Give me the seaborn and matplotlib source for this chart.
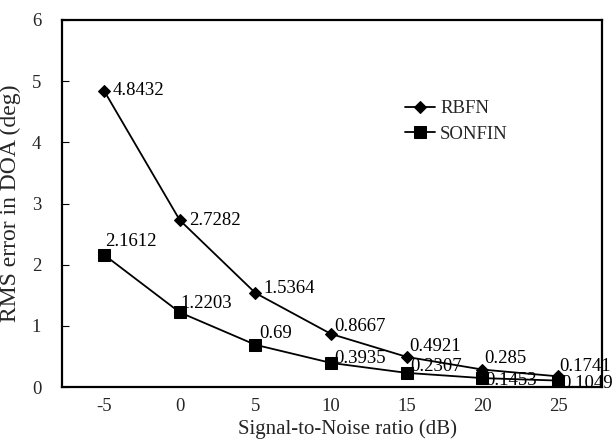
import matplotlib
matplotlib.use("Agg")
import matplotlib.pyplot as plt
import seaborn as sns
import pandas as pd

snr = [-5, 0, 5, 10, 15, 20, 25]
rbfn = [4.8432, 2.7282, 1.5364, 0.8667, 0.4921, 0.285, 0.1741]
sonfin = [2.1612, 1.2203, 0.69, 0.3935, 0.2307, 0.1453, 0.1049]
rbfn_labels = ["4.8432", "2.7282", "1.5364", "0.8667", "0.4921", "0.285", "0.1741"]
sonfin_labels = ["2.1612", "1.2203", "0.69", "0.3935", "0.2307", "0.1453", "0.1049"]
yticks = [0, 1, 2, 3, 4, 5, 6]

sns.set_theme(style="white")
plt.rcParams['font.family'] = ['Liberation Serif', 'DejaVu Serif']

df = pd.DataFrame({
    "SNR": snr + snr,
    "RMS": rbfn + sonfin,
    "Method": ["RBFN"] * len(snr) + ["SONFIN"] * len(snr),
})

fig = plt.figure(figsize=(6.15, 4.45), dpi=100)
ax = fig.add_axes([62/615, 58/445, 540/615, 367/445])

sns.lineplot(data=df, x="SNR", y="RMS", hue="Method", style="Method",
             palette={"RBFN": "black", "SONFIN": "black"},
             markers={"RBFN": "D", "SONFIN": "s"}, dashes=False,
             linewidth=1.3, markeredgecolor="black", ax=ax)

for line in ax.get_lines():
    if line.get_marker() == "D":
        line.set_markersize(6)
    elif line.get_marker() == "s":
        line.set_markersize(8.5)

fs = 13.5
rb_off = [(9, 0), (9, 0), (8, 5), (3, 7), (2, 10), (2, 11), (1, 10)]
so_off = [(1, 13), (1, 9), (4, 11), (3, 4), (3, 6), (3, -2), (3, -3)]
for x, y, t, o in zip(snr, rbfn, rbfn_labels, rb_off):
    ax.annotate(t, (x, y), xytext=o, textcoords="offset pixels",
                ha="left", va="center", fontsize=fs, color="black")
for x, y, t, o in zip(snr, sonfin, sonfin_labels, so_off):
    ax.annotate(t, (x, y), xytext=o, textcoords="offset pixels",
                ha="left", va="center", fontsize=fs, color="black")

ax.set_xlim(-7.78, 27.9)
ax.set_ylim(0, 6)
ax.set_xticks(snr)
ax.set_xticklabels([str(v) for v in snr], fontsize=fs)
ax.set_xticks([-2.5, 2.5, 7.5, 12.5, 17.5, 22.5], minor=True)
ax.set_yticks(yticks)
ax.set_yticklabels([str(v) for v in yticks], fontsize=fs)
ax.tick_params(axis="x", which="major", length=0, pad=8)
ax.tick_params(axis="x", which="minor", direction="in", length=4, width=0.8, color="black")
ax.tick_params(axis="y", which="major", direction="in", length=5, width=0.8, color="black", pad=15, left=True)
ax.set_xlabel("Signal-to-Noise ratio (dB)", fontsize=15)
ax.set_ylabel("RMS error in DOA (deg)", fontsize=17)
ax.xaxis.set_label_coords(0.528, -0.088)
ax.yaxis.set_label_coords(-0.075, 0.5)

for s in ax.spines.values():
    s.set_visible(True)
    s.set_color("black")
    s.set_linewidth(1.6)

leg = ax.legend(loc="upper left", bbox_to_anchor=(0.635, 0.781), frameon=False,
                fontsize=fs, handlelength=1.6, handletextpad=0.27, labelspacing=0.45,
                borderpad=0, borderaxespad=0, title=None)
for h in leg.legend_handles:
    h.set_color("black")

fig.savefig("out.png", dpi=100)
